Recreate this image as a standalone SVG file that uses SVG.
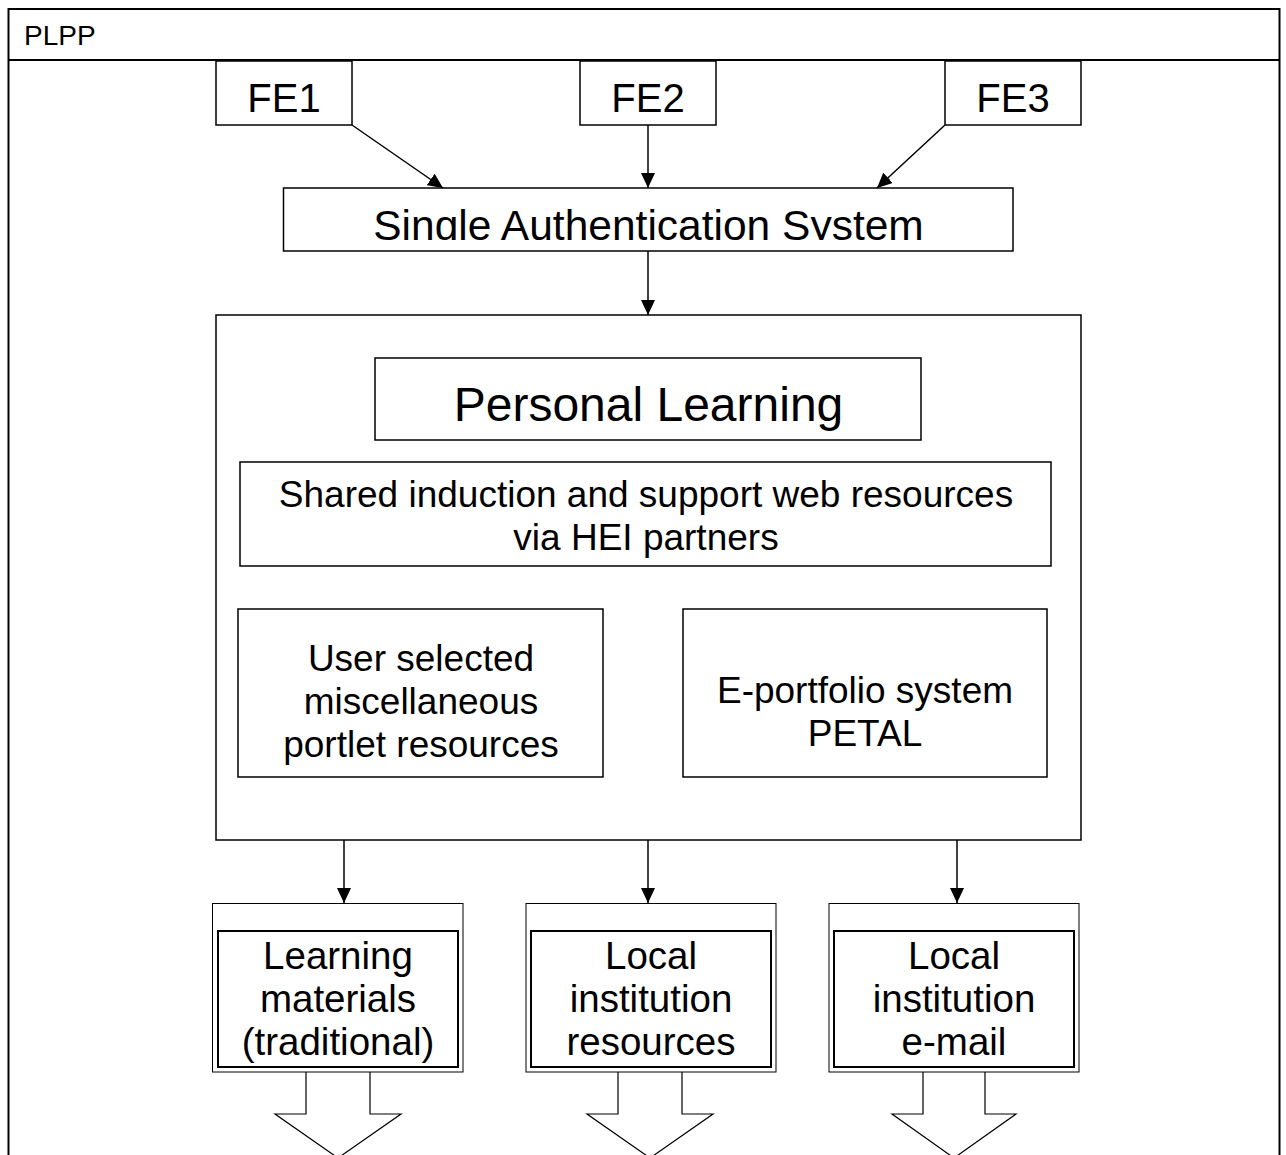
<svg xmlns="http://www.w3.org/2000/svg" width="1286" height="1155" viewBox="0 0 1286 1155">
  <style>
    .box { fill: #ffffff; stroke: #000000; stroke-width: 1.5; }
    .thin { fill: #ffffff; stroke: #000000; stroke-width: 1; }
    .thick { fill: none; stroke: #000000; stroke-width: 2; }
    .frame { fill: #ffffff; stroke: #000000; stroke-width: 2; }
    .lbl { font-family: "Liberation Sans", Arial, sans-serif; fill: #000000; text-anchor: middle; }
    .link { fill: none; stroke: #000000; stroke-width: 1.5; marker-end: url(#head); }
    .block { fill: #ffffff; stroke: #000000; stroke-width: 1.2; }
  </style>
  <defs>
    <marker id="head" markerUnits="userSpaceOnUse" markerWidth="16" markerHeight="14" refX="15" refY="7" orient="auto">
      <path d="M0,0 L15,7 L0,14 z" fill="#000000"/>
    </marker>
    <clipPath id="authClip">
      <rect x="284" y="188" width="729" height="52"/>
    </clipPath>
  </defs>

  <rect width="1286" height="1155" fill="#ffffff"/>

  <!-- outer package frame with title bar -->
  <g id="plpp">
    <path class="frame" d="M8.5,1160 L8.5,9 L1279.5,9 L1279.5,1160"/>
    <line x1="8.5" y1="60" x2="1279.5" y2="60" stroke="#000" stroke-width="2"/>
    <text class="lbl" x="24" y="45" font-size="28" style="text-anchor:start">PLPP</text>
  </g>

  <!-- front ends -->
  <g id="fe1">
    <rect class="box" x="216" y="61" width="136" height="64"/>
    <text class="lbl" x="284" y="112" font-size="40">FE1</text>
  </g>
  <g id="fe2">
    <rect class="box" x="580" y="61" width="136" height="64"/>
    <text class="lbl" x="648" y="112" font-size="40">FE2</text>
  </g>
  <g id="fe3">
    <rect class="box" x="945" y="61" width="136" height="64"/>
    <text class="lbl" x="1013" y="112" font-size="40">FE3</text>
  </g>

  <!-- single authentication -->
  <g id="auth">
    <rect class="box" x="283.5" y="188" width="729.5" height="63"/>
    <text class="lbl" x="648.5" y="240" font-size="42.5" clip-path="url(#authClip)">Single Authentication System</text>
  </g>

  <!-- personal learning environment -->
  <g id="ple">
    <rect class="box" x="216" y="315" width="865" height="525"/>
  </g>
  <g id="personal-learning">
    <rect class="box" x="375" y="358" width="546" height="82"/>
    <text class="lbl" x="648.5" y="421" font-size="48">Personal Learning</text>
  </g>
  <g id="shared">
    <rect class="box" x="240" y="462" width="811" height="104"/>
    <text class="lbl" x="646" y="507" font-size="37">Shared induction and support web resources</text>
    <text class="lbl" x="646" y="550" font-size="37">via HEI partners</text>
  </g>
  <g id="portlets">
    <rect class="box" x="238" y="609" width="365" height="168"/>
    <text class="lbl" x="421" y="671" font-size="37">User selected</text>
    <text class="lbl" x="421" y="714" font-size="37">miscellaneous</text>
    <text class="lbl" x="421" y="757" font-size="37">portlet resources</text>
  </g>
  <g id="eportfolio">
    <rect class="box" x="683" y="609" width="364" height="168"/>
    <text class="lbl" x="865" y="703" font-size="37">E-portfolio system</text>
    <text class="lbl" x="865" y="746" font-size="37">PETAL</text>
  </g>

  <!-- outputs -->
  <g id="learning-materials">
    <path class="block" d="M306,1072 L306,1114 L275,1114 L338,1158 L401,1114 L370,1114 L370,1072"/>
    <rect class="thin" x="212.5" y="903.5" width="250.5" height="168.5"/>
    <rect class="thick" x="218" y="931" width="240" height="136"/>
    <text class="lbl" x="338" y="969" font-size="38.5">Learning</text>
    <text class="lbl" x="338" y="1012" font-size="38.5">materials</text>
    <text class="lbl" x="338" y="1055" font-size="38.5">(traditional)</text>
  </g>
  <g id="institution-resources">
    <path class="block" d="M618,1072 L618,1114 L587,1114 L650,1158 L713,1114 L682,1114 L682,1072"/>
    <rect class="thin" x="526" y="903.5" width="250" height="168.5"/>
    <rect class="thick" x="531" y="931" width="240" height="136"/>
    <text class="lbl" x="651" y="969" font-size="38.5">Local</text>
    <text class="lbl" x="651" y="1012" font-size="38.5">institution</text>
    <text class="lbl" x="651" y="1055" font-size="38.5">resources</text>
  </g>
  <g id="institution-email">
    <path class="block" d="M923,1072 L923,1114 L892,1114 L954,1158 L1016,1114 L985,1114 L985,1072"/>
    <rect class="thin" x="829" y="903.5" width="250" height="168.5"/>
    <rect class="thick" x="834" y="931" width="240" height="136"/>
    <text class="lbl" x="954" y="969" font-size="38.5">Local</text>
    <text class="lbl" x="954" y="1012" font-size="38.5">institution</text>
    <text class="lbl" x="954" y="1055" font-size="38.5">e-mail</text>
  </g>

  <!-- connectors -->
  <g id="connectors">
    <line class="link" x1="352" y1="125" x2="443" y2="188"/>
    <line class="link" x1="648" y1="125" x2="648" y2="188"/>
    <line class="link" x1="945" y1="125" x2="877" y2="188"/>
    <line class="link" x1="648" y1="251" x2="648" y2="315"/>
    <line class="link" x1="344" y1="840" x2="344" y2="903"/>
    <line class="link" x1="648" y1="840" x2="648" y2="903"/>
    <line class="link" x1="957" y1="840" x2="957" y2="903"/>
  </g>
</svg>
